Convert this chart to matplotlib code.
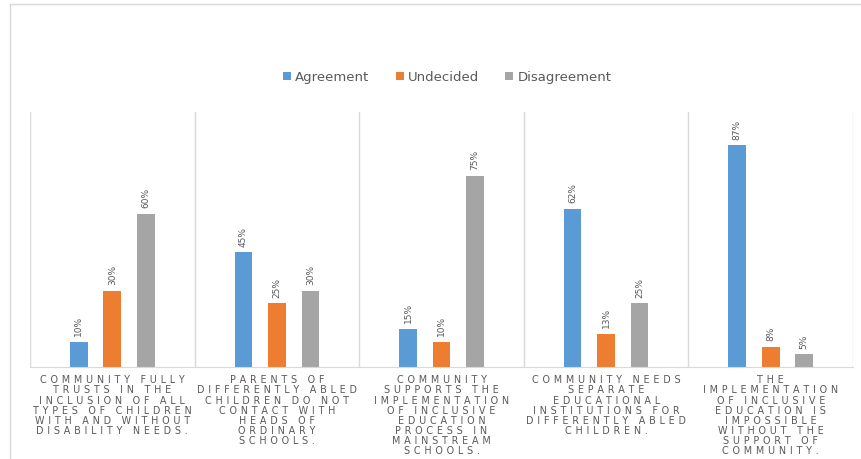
import matplotlib
matplotlib.use("Agg")
import matplotlib.pyplot as plt
from matplotlib.lines import Line2D
import numpy as np

categories = [
    "COMMUNITY FULLY\nTRUSTS IN THE\nINCLUSION OF ALL\nTYPES OF CHILDREN\nWITH AND WITHOUT\nDISABILITY NEEDS.",
    "PARENTS OF\nDIFFERENTLY ABLED\nCHILDREN DO NOT\nCONTACT WITH\nHEADS OF\nORDINARY\nSCHOOLS.",
    "COMMUNITY\nSUPPORTS THE\nIMPLEMENTATION\nOF INCLUSIVE\nEDUCATION\nPROCESS IN\nMAINSTREAM\nSCHOOLS.",
    "COMMUNITY NEEDS\nSEPARATE\nEDUCATIONAL\nINSTITUTIONS FOR\nDIFFERENTLY ABLED\nCHILDREN.",
    "THE\nIMPLEMENTATION\nOF INCLUSIVE\nEDUCATION IS\nIMPOSSIBLE\nWITHOUT THE\nSUPPORT OF\nCOMMUNITY.",
]
series_names = ["Agreement", "Undecided", "Disagreement"]
agreement = [10, 45, 15, 62, 87]
undecided = [30, 25, 10, 13, 8]
disagreement = [60, 30, 75, 25, 5]

colors = ["#5B9BD5", "#ED7D31", "#A5A5A5"]
text_grey = "#595959"
grid_grey = "#D9D9D9"


def spaced(s):
    # mimic the wide letter spacing of the original axis labels
    return "\n".join("\u2009\u2009".join(line) for line in s.split("\n"))


fig = plt.figure(figsize=(8.62, 4.59), dpi=100)
# outer chart frame (only top and left edges are visible)
fig.lines.append(Line2D([10 / 862, 10 / 862, 1.05], [-0.05, 1 - 4 / 459, 1 - 4 / 459],
                        transform=fig.transFigure, color=grid_grey, linewidth=1.0))
ax = fig.add_axes([30 / 862, (459 - 367) / 459, 823 / 862, 255 / 459])

x = np.arange(len(categories))
offset = 0.2036
width = 0.1075
for i, (vals, name) in enumerate(zip([agreement, undecided, disagreement], series_names)):
    bars = ax.bar(x + (i - 1) * offset, vals, width, color=colors[i], label=name, zorder=2)
    for b, v in zip(bars, vals):
        ax.annotate("{0}%".format(v), (b.get_x() + b.get_width() / 2, v),
                    xytext=(0, 4), textcoords="offset points",
                    rotation=90, ha="center", va="bottom", fontsize=6.5,
                    color=text_grey)

for b in np.arange(-0.5, len(categories), 1.0):
    ax.axvline(b, color=grid_grey, linewidth=1.0, zorder=1)

ax.set_xlim(-0.5, len(categories) - 0.5)
ax.set_ylim(0, 100)
for s in ["top", "left", "right"]:
    ax.spines[s].set_visible(False)
ax.spines["bottom"].set_color(grid_grey)
ax.set_yticks([])
ax.set_xticks(x)
ax.set_xticklabels([spaced(c) for c in categories], fontsize=6.9, color=text_grey,
                   linespacing=1.02)
ax.tick_params(axis="x", length=0, pad=6)

fig.legend(loc="center", bbox_to_anchor=(0.519, 0.832), ncol=3, frameon=False,
           fontsize=9.5, labelcolor=text_grey, handlelength=0.6, handleheight=0.6,
           handletextpad=0.3, columnspacing=2.0)

fig.savefig("out.png", dpi=100)
